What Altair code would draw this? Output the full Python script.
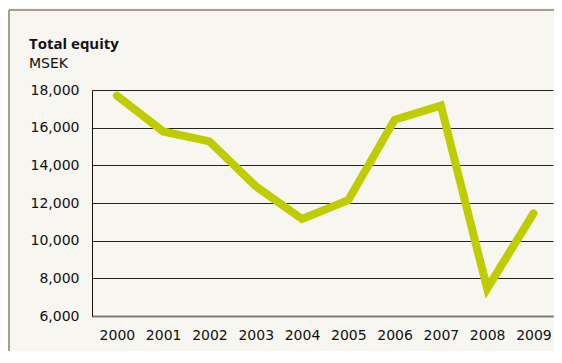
import altair as alt
import pandas as pd

years = ["2000", "2001", "2002", "2003", "2004", "2005", "2006", "2007", "2008", "2009"]
equity = [17700, 15800, 15270, 12890, 11150, 12150, 16420, 17170, 7450, 11450]
y_ticks = [6000, 8000, 10000, 12000, 14000, 16000, 18000]
title_text = "Total equity"
unit_text = "MSEK"

BG = "#f7f6f0"
LINE = "#bfcc00"
FRAME = "#a99d8b"

df = pd.DataFrame({"year": years, "equity": equity})

x = alt.X(
    "year:O",
    scale=alt.Scale(type="point", padding=0.48, align=0.56),
    axis=alt.Axis(
        title=None, labelAngle=0, ticks=False, grid=False,
        domain=True, domainColor="#7a7a7a", domainWidth=2,
        labelPadding=12, labelFont="DejaVu Sans", labelFontSize=14,
        labelColor="#111111",
    ),
)
y = alt.Y(
    "equity:Q",
    scale=alt.Scale(domain=[6000, 18000], nice=False, zero=False),
    axis=alt.Axis(
        title=None, values=y_ticks, format=",d", ticks=False,
        domain=True, domainColor="#111111", domainWidth=1,
        grid=True, gridColor="#222222", gridWidth=1, gridOpacity=1,
        labelPadding=13, labelFont="DejaVu Sans", labelFontSize=14,
        labelColor="#111111",
    ),
)

line = alt.Chart(df).mark_line(
    color=LINE, strokeWidth=8, strokeCap="round", strokeJoin="miter"
).encode(x=x, y=y)

one = pd.DataFrame({"t": [title_text], "u": [unit_text]})

title = alt.Chart(one).mark_text(
    align="left", baseline="alphabetic", font="Open Sans",
    fontWeight="bold", fontSize=15, color="#111111"
).encode(x=alt.value(-63), y=alt.value(-41), text="t:N")

unit = alt.Chart(one).mark_text(
    align="left", baseline="alphabetic", font="DejaVu Sans",
    fontSize=14, color="#111111"
).encode(x=alt.value(-63), y=alt.value(-22), text="u:N")

frame_v = alt.Chart(one).mark_rule(color=FRAME, strokeWidth=2).encode(
    x=alt.value(-83), y=alt.value(-80), y2=alt.value(400)
)
frame_h = alt.Chart(one).mark_rule(color=FRAME, strokeWidth=2).encode(
    x=alt.value(-83), x2=alt.value(600), y=alt.value(-80)
)

chart = alt.layer(frame_v, frame_h, title, unit, line).properties(
    width=461, height=226,
    autosize=alt.AutoSizeParams(type="none"),
    padding={"left": 84, "top": 82, "right": 1, "bottom": 35},
    background=BG,
).configure_view(stroke=None)

chart.save("out.html", embed_options={"renderer": "svg", "actions": False})
